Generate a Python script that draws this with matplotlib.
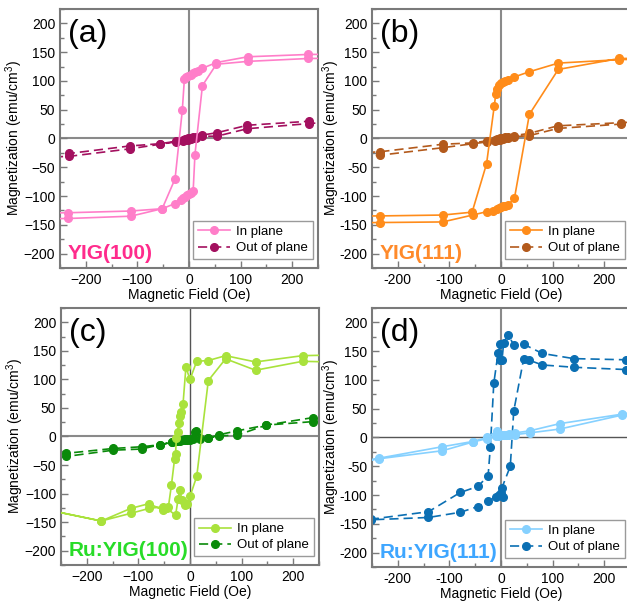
import matplotlib
matplotlib.use("Agg")
import matplotlib.pyplot as plt
from matplotlib.ticker import MultipleLocator, FuncFormatter

plt.rcParams['font.family'] = ['Liberation Sans', 'DejaVu Sans']
plt.rcParams['mathtext.fontset'] = 'custom'
plt.rcParams['mathtext.rm'] = 'Liberation Sans'

# ---- (a) YIG(100) ----
a_in_field = [350, 231, 114, 53, 26, 17, 12, 7, 3, -1, -5, -9, -13, -27, -52, -113, -234, -350,
              -350, -234, -113, -52, -27, -16, -12, -8, -4, 0, 4, 8, 11.5, 26, 53, 114, 231, 350]
a_in_mag = [147, 146, 142, 132, 122, 117, 115, 113, 111, 109, 106, 103, 49, -70, -122, -126, -129, -130,
            -140, -139, -135, -122, -113, -106, -104, -101, -99, -97, -95, -92, -28, 92, 129, 134, 139, 140]
a_out_field = [350, 233, 113, 54, 26, 13, 8, 3, -2, -7, -12, -26, -56, -115, -232, -350,
               -350, -232, -115, -56, -26, -12, -7, -2, 3, 8, 13, 26, 54, 113, 233, 350]
a_out_mag = [36, 30, 23, 10, 6, 3, 2, 1, 0, -1, -2, -5, -9, -13, -26, -33,
             -35, -31, -18, -10, -6, -4, -3, -2, -1, 0, 1, 4, 4, 17, 26, 33]

# ---- (b) YIG(111) ----
b_in_field = [350, 229, 111, 55, 26, 12.7, 8, 4, 0, -3, -7, -10, -13, -28, -56, -113, -234, -350,
              -350, -234, -113, -55, -27, -15, -8, -4, 0, 4, 8, 12.7, 26, 55, 111, 229, 350]
b_in_mag = [139, 137, 131, 116, 107, 101, 100, 99, 97, 93, 86, 78, 57, -44, -128, -133, -134.5, -135,
            -147, -146, -145, -133, -127, -126, -123, -121, -119, -118, -117, -116, -104, 42, 120, 139, 140]
b_out_field = [350, 232, 110, 55, 26, 13, 8, 3, -2, -7, -12, -27, -54, -113, -234, -350,
               -350, -234, -113, -54, -27, -12, -7, -2, 3, 8, 13, 26, 55, 110, 232, 350]
b_out_mag = [32, 27.5, 22, 9, 5, 3, 2, 1, 0, -1, -2, -4, -7.6, -10, -23, -29,
             -34, -29, -16, -9, -6, -4, -3, -2, -1, 0, 1, 3, 5, 17.5, 25, 30]

# ---- (c) Ru:YIG(100) ----
c_in_field = [350, 218, 127, 69, 35.5, 13, 0, -8, -13.6, -18, -20, -22, -24, -26.4, -28, -30, -36, -42, -52,
              -79.5, -115, -172, -300,
              -300, -172, -115, -79.5, -52, -44.6, -28, -23, -20, -15, -10, -5, 0, 13, 35.5, 69, 127, 218, 350]
c_in_mag = [144, 141.5, 130.5, 141.5, 133, 131.6, 100, 121, 56, 42, 36, 24, 7, -2, -30, -40, -85, -124, -129,
            -117.6, -126, -148, -124,
            -124, -148, -134.6, -126, -123, -126, -138, -109, -94.5, -112, -120.5, -118, -105, -70, 98, 136, 116,
            131.6, 129]
c_out_field = [350, 238, 148, 92, 56, 35, 9, 5, 0, -5, -10, -15, -20, -25, -34, -58.6, -94, -149, -240, -350,
               -350, -240, -149, -94, -58.6, -34, -25, -20, -15, -10, -5, 0, 5, 11, 20, 35, 56, 92, 148, 238, 350]
c_out_mag = [38, 33, 20, 10, 3, -3, 8, -5, -6, -6, -7, -7, -8, -8, -10, -14.5, -18, -21, -29.5, -38,
             -42, -35, -24, -22, -14.5, -10, -8, -7, -6, -5, -5, -4, -2, 10, -4, -3, 1, 2.4, 20, 26, 31]

# ---- (d) Ru:YIG(111) ----
d_in_field = [350, 235, 113.5, 55.8, 28, 15, 10, 5, 0, -4, -7.8, -27, -55, -113.4, -236.5, -350,
              -350, -236.5, -113.4, -55, -27, -10, -5, 0, 5, 10, 15, 28, 55.8, 113.5, 235, 350]
d_in_mag = [58, 40.6, 24, 11.6, 8, 6, 5, 5, 4, 3, 11.6, 0, -7, -16, -36, -54,
            -56, -37, -23, -8, -2, 2, 3, 4, 4, 4, 5, 5, 8, 14.6, 39, 55]
d_out_field = [350, 242, 141, 80, 44, 24.7, 13.6, 5.2, 2, -1.2, -1.2, -5.8, -14, -20.6, -25, -44.7, -79, -140.6,
               -252, -350,
               -350, -252, -140.6, -79, -44.7, -25, -10, -3, 0, 3, 2, 18, 24.7, 44, 54, 80, 141, 242, 350]
d_out_mag = [134, 135, 137, 146, 162, 161, 178.6, 165, 135, 135, 162, 146, 94, -16, -66.6, -85, -95.6, -129,
             -142, -146,
             -146, -143, -139, -130, -120, -110, -104, -100, -97, -103, -87, -50, 46, 137, 134.5, 126, 122, 118, 117]

panel_tags = ['(a)', '(b)', '(c)', '(d)']
sample_names = ['YIG(100)', 'YIG(111)', 'Ru:YIG(100)', 'Ru:YIG(111)']
legend_labels = ['In plane', 'Out of plane']

panels = [
    dict(in_x=a_in_field, in_y=a_in_mag, out_x=a_out_field, out_y=a_out_mag,
         c_in='#FF7EC9', c_out='#A3105F', c_name='#FF2B8C', minus='\u2212',
         vcol='#8a8a8a', vlw=1.5, hcol='#8a8a8a', hlw=1.5, ylab_x=-0.136),
    dict(in_x=b_in_field, in_y=b_in_mag, out_x=b_out_field, out_y=b_out_mag,
         c_in='#FF8C1A', c_out='#B35A1C', c_name='#FF8A2A', minus='-',
         vcol='#8a8a8a', vlw=1.5, hcol='#8a8a8a', hlw=1.5, ylab_x=-0.118),
    dict(in_x=c_in_field, in_y=c_in_mag, out_x=c_out_field, out_y=c_out_mag,
         c_in='#A9E23C', c_out='#0A8A0A', c_name='#28DC28', minus='\u2212',
         vcol='#555555', vlw=1.0, hcol='#8a8a8a', hlw=1.5, ylab_x=-0.136),
    dict(in_x=d_in_field, in_y=d_in_mag, out_x=d_out_field, out_y=d_out_mag,
         c_in='#86D1FF', c_out='#0B6FB3', c_name='#3EA6FF', minus='-',
         vcol='#8a8a8a', vlw=1.5, hcol='#555555', hlw=1.0, ylab_x=-0.118),
]

positions = [
    [0.0957, 0.5563, 0.4115, 0.4288],
    [0.5933, 0.5563, 0.4115, 0.4288],
    [0.0973, 0.0646, 0.4115, 0.4255],
    [0.5933, 0.0613, 0.4115, 0.4288],
]

fig = plt.figure(figsize=(6.27, 6.04), dpi=100)
spine_col = '#7a7a7a'

for tag, name, p, pos in zip(panel_tags, sample_names, panels, positions):
    ax = fig.add_axes(pos)
    ax.axvline(0, color=p['vcol'], lw=p['vlw'], zorder=1)
    ax.axhline(0, color=p['hcol'], lw=p['hlw'], zorder=1)
    ax.plot(p['in_x'], p['in_y'], '-o', color=p['c_in'], lw=1.2, ms=5.5,
            label=legend_labels[0], zorder=3)
    ax.plot(p['out_x'], p['out_y'], 'o', linestyle=(0, (5.5, 3)), color=p['c_out'], lw=1.2, ms=5.5,
            label=legend_labels[1], zorder=2)
    ax.set_xlim(-250, 250)
    ax.set_ylim(-225, 225)
    ax.xaxis.set_major_locator(MultipleLocator(100))
    ax.xaxis.set_minor_locator(MultipleLocator(50))
    ax.yaxis.set_major_locator(MultipleLocator(50))
    ax.yaxis.set_minor_locator(MultipleLocator(25))
    mchar = p['minus']
    fmt = FuncFormatter(lambda v, pos_, m=mchar: (m + '%d' % abs(v)) if v < 0 else '%d' % v)
    ax.xaxis.set_major_formatter(fmt)
    ax.yaxis.set_major_formatter(fmt)
    ax.tick_params(which='both', direction='in', top=False, right=False,
                   labelsize=10, color=spine_col, width=1.0)
    ax.tick_params(which='major', length=5)
    ax.tick_params(which='minor', length=3)
    for s in ax.spines.values():
        s.set_color(spine_col)
        s.set_linewidth(1.5)
    ax.set_xlabel('Magnetic Field (Oe)', fontsize=10, labelpad=1)
    ax.set_ylabel('Magnetization (emu/cm$^{3}$)', fontsize=10)
    ax.yaxis.set_label_coords(p['ylab_x'], 0.5)
    ax.text(0.03, 0.96, tag, transform=ax.transAxes, fontsize=23, va='top', ha='left')
    ax.text(0.03, 0.02, name, transform=ax.transAxes, fontsize=15, fontweight='bold',
            color=p['c_name'], va='bottom', ha='left')
    leg = ax.legend(loc='lower right', bbox_to_anchor=(0.98, 0.035), borderaxespad=0,
                    fontsize=9.5, handlelength=2.4, fancybox=False, framealpha=1,
                    borderpad=0.35, labelspacing=0.3, handletextpad=0.5)
    leg.get_frame().set_edgecolor('#9a9a9a')
    leg.get_frame().set_linewidth(1.0)

fig.savefig('out.png', dpi=100)
